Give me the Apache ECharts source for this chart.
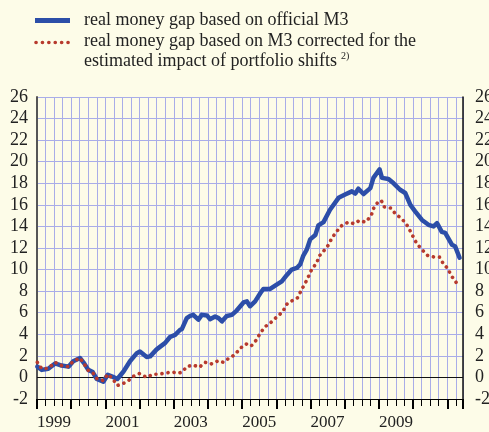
<!DOCTYPE html>
<html><head><meta charset="utf-8">
<script src="https://cdn.jsdelivr.net/npm/echarts@6/dist/echarts.min.js"></script>
<style>html,body{margin:0;padding:0;background:#fdfce8;}#c{width:489px;height:432px;}</style>
</head><body><div id="c"></div>
<script>
// Data (decimal years, percentage values)
const officialX = [1999.01,1999.14,1999.33,1999.53,1999.72,1999.92,2000.06,2000.26,2000.38,2000.50,2000.63,2000.75,2000.94,2001.07,2001.22,2001.35,2001.53,2001.72,2001.92,2002.01,2002.21,2002.31,2002.50,2002.75,2002.89,2003.04,2003.18,2003.24,2003.38,2003.48,2003.57,2003.72,2003.82,2003.97,2004.06,2004.21,2004.31,2004.41,2004.55,2004.70,2004.84,2005.04,2005.14,2005.23,2005.38,2005.53,2005.62,2005.82,2006.01,2006.16,2006.31,2006.45,2006.60,2006.70,2006.79,2006.89,2006.99,2007.14,2007.23,2007.38,2007.57,2007.82,2008.01,2008.21,2008.31,2008.40,2008.55,2008.75,2008.84,2009.02,2009.09,2009.28,2009.43,2009.62,2009.77,2009.92,2010.06,2010.26,2010.45,2010.60,2010.70,2010.84,2010.94,2011.14,2011.23,2011.36];
const officialY = [1.0,0.7,0.8,1.3,1.1,1.0,1.5,1.8,1.3,0.7,0.5,-0.15,-0.4,0.25,0.05,-0.15,0.55,1.5,2.25,2.4,1.9,1.95,2.6,3.2,3.75,3.95,4.4,4.5,5.5,5.7,5.8,5.35,5.8,5.75,5.4,5.65,5.5,5.2,5.7,5.8,6.2,6.95,7.05,6.6,7.05,7.8,8.2,8.2,8.6,8.9,9.5,10.0,10.15,10.5,11.3,11.85,12.8,13.2,14.1,14.4,15.55,16.65,16.95,17.25,17.05,17.5,17.0,17.55,18.5,19.3,18.5,18.4,18.0,17.4,17.1,16.0,15.4,14.6,14.15,14.0,14.3,13.5,13.4,12.3,12.15,11.1];
const correctedX = [1999.01,1999.14,1999.33,1999.53,1999.72,1999.92,2000.06,2000.26,2000.38,2000.50,2000.63,2000.75,2000.94,2001.07,2001.22,2001.35,2001.53,2001.67,2001.82,2001.99,2002.21,2002.39,2002.55,2002.75,2002.94,2003.14,2003.25,2003.38,2003.57,2003.75,2003.92,2004.09,2004.31,2004.45,2004.62,2004.79,2004.94,2005.12,2005.26,2005.41,2005.53,2005.67,2005.84,2006.01,2006.19,2006.31,2006.48,2006.63,2006.73,2006.84,2006.94,2007.04,2007.19,2007.24,2007.38,2007.53,2007.62,2007.77,2007.92,2008.11,2008.28,2008.43,2008.60,2008.77,2008.84,2008.97,2009.07,2009.16,2009.35,2009.50,2009.64,2009.80,2009.92,2010.01,2010.11,2010.26,2010.43,2010.63,2010.78,2010.89,2011.02,2011.11,2011.21,2011.28];
const correctedY = [1.4,0.8,0.85,1.4,1.1,1.0,1.5,1.8,1.25,0.65,0.45,-0.1,-0.3,0.3,-0.15,-0.75,-0.55,-0.3,0.1,0.35,0.0,0.3,0.3,0.4,0.5,0.4,0.5,1.0,1.15,0.95,1.4,1.25,1.55,1.4,1.8,2.1,2.7,3.1,2.9,3.45,4.1,4.7,5.1,5.6,6.1,6.8,7.15,7.4,8.1,8.7,9.35,10.05,10.65,11.2,11.7,12.3,12.9,13.55,14.1,14.4,14.25,14.55,14.4,14.95,15.65,16.25,16.4,15.8,15.7,15.1,14.8,14.25,13.55,13.0,12.4,11.85,11.3,11.15,11.15,10.5,10.1,9.45,9.05,8.7];
const seriesNames = ['real money gap based on official M3', 'real money gap based on M3 corrected for the', 'estimated impact of portfolio shifts'];
const yearLabels = [1999, 2001, 2003, 2005, 2007, 2009];
const X_MIN = 1999, X_MAX = 2011.46, Y_MIN = -2;

const BLUE = '#2c4ea8', RED = '#b73a2d', GRID = '#a9ade8', FONT = '"Liberation Serif","Times New Roman",serif';
const chart = echarts.init(document.getElementById('c'));
const zip = (xs, ys) => xs.map((x, i) => [x, ys[i]]);
chart.setOption({
  backgroundColor: '#fdfce8',
  animation: false,
  grid: {left: 37, right: 26, top: 97, bottom: 33, containLabel: false, outerBoundsMode: 'none'},
  xAxis: {
    type: 'value', min: X_MIN, max: X_MAX, interval: 1,
    axisLine: {onZero: false, lineStyle: {color: '#000', width: 1}},
    axisTick: {show: true, length: 10, lineStyle: {color: '#000', width: 2}},
    minorTick: {show: true, splitNumber: 4, length: 7, lineStyle: {color: '#000', width: 1}},
    splitLine: {show: true, lineStyle: {color: GRID, width: 1}},
    minorSplitLine: {show: true, lineStyle: {color: GRID, width: 1}},
    axisLabel: {
      align: 'left', margin: 15, fontFamily: FONT, fontSize: 17, color: '#222',
      formatter: v => yearLabels.indexOf(v) >= 0 ? String(v) : ''
    }
  },
  yAxis: [{
    type: 'value', min: Y_MIN, max: 26, interval: 2, position: 'left',
    axisLine: {show: true, lineStyle: {color: '#555', width: 2}},
    axisTick: {show: false},
    splitLine: {show: true, lineStyle: {color: GRID, width: 1}},
    axisLabel: {margin: 9, fontFamily: FONT, fontSize: 18, color: '#222'}
  }, {
    type: 'value', min: Y_MIN, max: 26, interval: 2, position: 'right',
    axisLine: {show: true, lineStyle: {color: '#111', width: 1.5}},
    axisTick: {show: false},
    splitLine: {show: false},
    axisLabel: {margin: 12, fontFamily: FONT, fontSize: 18, color: '#222'}
  }],
  series: [{
    name: seriesNames[0], type: 'line', data: zip(officialX, officialY),
    showSymbol: false, symbol: 'none', z: 3,
    lineStyle: {color: BLUE, width: 4.5, join: 'round', cap: 'round'},
    markLine: {silent: true, symbol: 'none', label: {show: false}, z: 2,
      lineStyle: {color: '#111', width: 1, type: 'solid'}, data: [{yAxis: 0}]}
  }, {
    name: seriesNames[1], type: 'line', data: zip(correctedX, correctedY),
    showSymbol: false, symbol: 'none', z: 4,
    lineStyle: {color: RED, width: 3.6, type: [0.1, 6], cap: 'round'}
  }],
  graphic: [
    {type: 'line', shape: {x1: 35, y1: 20.5, x2: 70, y2: 20.5}, style: {stroke: BLUE, lineWidth: 5}},
    {type: 'line', shape: {x1: 36, y1: 42.5, x2: 69, y2: 42.5}, style: {stroke: RED, lineWidth: 3.6, lineDash: [0.1, 6.3], lineCap: 'round'}},
    {type: 'text', x: 84, y: 20.5, style: {text: seriesNames[0], font: '18px ' + FONT, fill: '#222', textVerticalAlign: 'middle', verticalAlign: 'middle'}},
    {type: 'text', x: 84, y: 41.7, style: {text: seriesNames[1], font: '18px ' + FONT, fill: '#222', textVerticalAlign: 'middle', verticalAlign: 'middle'}},
    {type: 'text', x: 84, y: 61.7, style: {text: seriesNames[2], font: '18px ' + FONT, fill: '#222', textVerticalAlign: 'middle', verticalAlign: 'middle'}},
    {type: 'text', x: 341, y: 56, style: {text: '2)', font: '10px ' + FONT, fill: '#222', textVerticalAlign: 'middle', verticalAlign: 'middle'}}
  ]
});
</script></body></html>
